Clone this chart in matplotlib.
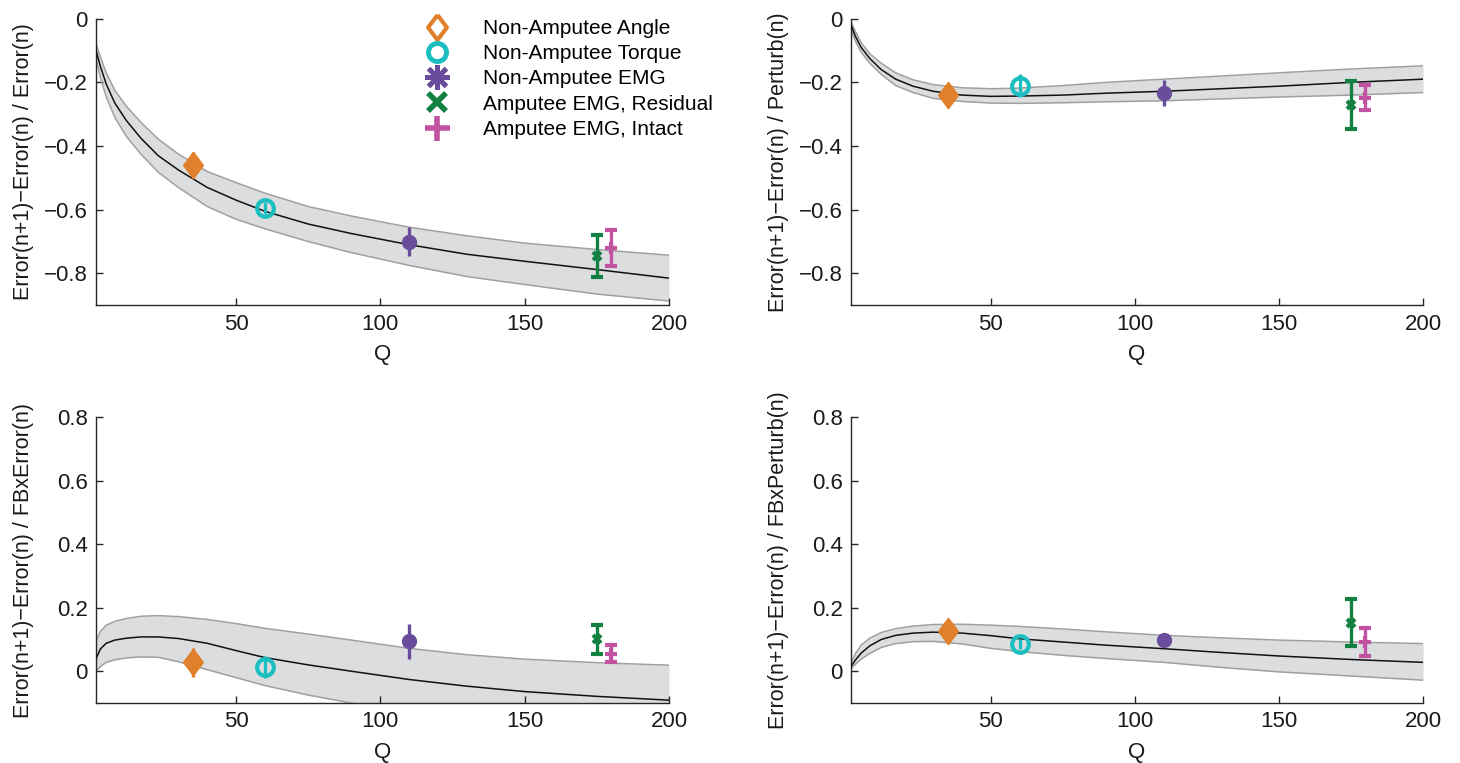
import matplotlib
matplotlib.use('Agg')
import matplotlib.pyplot as plt
from matplotlib.lines import Line2D

plt.rcParams['font.family'] = ['Liberation Sans', 'DejaVu Sans']
plt.rcParams['font.size'] = 16

# group names and Q positions of the five data points
groups = ['Non-Amputee Angle', 'Non-Amputee Torque', 'Non-Amputee EMG',
          'Amputee EMG, Residual', 'Amputee EMG, Intact']
q_pts = [35, 60, 110, 175, 180]

# model curves
q_curve = [1.5, 3, 5, 8, 12, 17, 23, 30, 40, 50, 60, 75, 90, 110, 130, 150, 175, 200]

a_mean = [-0.10, -0.15, -0.205, -0.265, -0.32, -0.375, -0.43, -0.475, -0.53, -0.57, -0.605,
          -0.645, -0.675, -0.71, -0.74, -0.762, -0.788, -0.815]
a_up = [-0.078, -0.12, -0.17, -0.225, -0.275, -0.325, -0.378, -0.425, -0.48, -0.515, -0.548,
        -0.59, -0.62, -0.655, -0.682, -0.705, -0.725, -0.743]
a_lo = [-0.125, -0.185, -0.245, -0.31, -0.37, -0.425, -0.482, -0.53, -0.59, -0.63, -0.66,
        -0.70, -0.735, -0.775, -0.81, -0.835, -0.865, -0.887]
a_y = [-0.46, -0.595, -0.70, -0.745, -0.72]
a_err = [0.04, 0.02, 0.045, 0.065, 0.056]

b_mean = [-0.02, -0.055, -0.09, -0.125, -0.16, -0.19, -0.212, -0.228, -0.24, -0.244, -0.243,
          -0.24, -0.234, -0.228, -0.22, -0.212, -0.20, -0.19]
b_up = [-0.01, -0.04, -0.075, -0.11, -0.14, -0.17, -0.192, -0.207, -0.217, -0.22, -0.218,
        -0.21, -0.20, -0.19, -0.18, -0.17, -0.158, -0.148]
b_lo = [-0.035, -0.07, -0.105, -0.14, -0.175, -0.21, -0.232, -0.25, -0.26, -0.265, -0.266,
        -0.264, -0.261, -0.258, -0.252, -0.246, -0.24, -0.232]
b_y = [-0.24, -0.21, -0.233, -0.272, -0.248]
b_err = [0.015, 0.035, 0.04, 0.075, 0.04]

c_mean = [0.04, 0.07, 0.088, 0.098, 0.104, 0.108, 0.108, 0.103, 0.088, 0.065, 0.043,
          0.02, 0.0, -0.026, -0.047, -0.064, -0.079, -0.091]
c_up = [0.095, 0.125, 0.145, 0.157, 0.166, 0.173, 0.175, 0.172, 0.163, 0.15, 0.135,
        0.117, 0.098, 0.072, 0.052, 0.038, 0.027, 0.019]
c_lo = [0.0, 0.015, 0.028, 0.036, 0.042, 0.045, 0.044, 0.03, 0.005, -0.02, -0.045,
        -0.075, -0.10, -0.128, -0.15, -0.168, -0.185, -0.20]
c_y = [0.028, 0.013, 0.095, 0.10, 0.055]
c_err = [0.045, 0.035, 0.055, 0.047, 0.027]

d_mean = [0.015, 0.035, 0.057, 0.08, 0.10, 0.113, 0.12, 0.123, 0.12, 0.112, 0.102,
          0.092, 0.082, 0.071, 0.059, 0.048, 0.037, 0.028]
d_up = [0.025, 0.055, 0.082, 0.104, 0.122, 0.134, 0.142, 0.147, 0.148, 0.145, 0.141,
        0.133, 0.124, 0.113, 0.105, 0.098, 0.092, 0.087]
d_lo = [0.008, 0.022, 0.038, 0.056, 0.075, 0.087, 0.093, 0.094, 0.086, 0.072, 0.062,
        0.05, 0.04, 0.028, 0.012, -0.002, -0.015, -0.028]
d_y = [0.127, 0.085, 0.098, 0.153, 0.092]
d_err = [0.02, 0.015, 0.01, 0.073, 0.043]

colors = ['#E0802A', '#1BBFC1', '#6A4C9C', '#118041', '#C153A2']
diamond = [(0, 1), (0.75, 0), (0, -1), (-0.75, 0), (0, 1)]
# in-plot marker styles
pt_style = [dict(marker=diamond, ms=19, mfc=colors[0], mec=colors[0], mew=1),
            dict(marker='o', ms=12, mfc='none', mec=colors[1], mew=3),
            dict(marker='o', ms=10, mfc=colors[2], mec=colors[2], mew=1),
            dict(marker='x', ms=6, mfc=colors[3], mec=colors[3], mew=3),
            dict(marker='+', ms=9, mfc=colors[4], mec=colors[4], mew=3)]
caps = [0, 0, 0, 4, 4]

axc = '#262626'
fig = plt.figure(figsize=(14.6, 7.63), dpi=100)
boxes = [[0.0658, 0.600, 0.3924, 0.3755], [0.5829, 0.600, 0.3918, 0.3755],
         [0.0658, 0.0786, 0.3924, 0.3749], [0.5829, 0.0786, 0.3918, 0.3749]]
ylabels = ['Error(n+1)\u2212Error(n) / Error(n)', 'Error(n+1)\u2212Error(n) / Perturb(n)',
           'Error(n+1)\u2212Error(n) / FBxError(n)', 'Error(n+1)\u2212Error(n) / FBxPerturb(n)']
panels = [(a_mean, a_up, a_lo, a_y, a_err), (b_mean, b_up, b_lo, b_y, b_err),
          (c_mean, c_up, c_lo, c_y, c_err), (d_mean, d_up, d_lo, d_y, d_err)]

for i, (mean, up, lo, ys, errs) in enumerate(panels):
  ax = fig.add_axes(boxes[i])
  ax.fill_between(q_curve, lo, up, color='#DCDDDF', lw=0, zorder=1)
  ax.plot(q_curve, up, color='#A0A0A0', lw=1.1, zorder=2)
  ax.plot(q_curve, lo, color='#A0A0A0', lw=1.1, zorder=2)
  ax.plot(q_curve, mean, color='#111111', lw=1.1, zorder=3)
  for j in range(5):
    ax.errorbar(q_pts[j], ys[j], yerr=errs[j], color=colors[j], elinewidth=2.4,
                capsize=caps[j], capthick=2.4, ls='none', zorder=4, **pt_style[j])
  ax.set_xlim(1.5, 200)
  ax.set_xticks([50, 100, 150, 200])
  if i < 2:
    ax.set_ylim(-0.9, 0)
    yt = [-0.8, -0.6, -0.4, -0.2, 0]
  else:
    ax.set_ylim(-0.1, 0.8)
    yt = [0, 0.2, 0.4, 0.6, 0.8]
  ax.set_yticks(yt)
  ax.set_yticklabels(['0' if v == 0 else ('%.1f' % v).replace('-', '\u2212') for v in yt])
  for s in ['top', 'right']:
    ax.spines[s].set_visible(False)
  for s in ['left', 'bottom']:
    ax.spines[s].set_color(axc)
    ax.spines[s].set_linewidth(1.0)
  ax.tick_params(direction='in', length=5, width=1, colors=axc, labelsize=16,
                 labelcolor='#1a1a1a', pad=6)
  ax.set_xlabel('Q', fontsize=16, color='#1a1a1a', labelpad=7)
  ax.set_ylabel(ylabels[i], fontsize=15.5, color='#1a1a1a')
  ax.yaxis.set_label_coords(-0.108, 0.5)
  if i == 0:
    handles = [Line2D([], [], ls='none', marker=diamond, ms=18, mfc='none', mec=colors[0], mew=3),
               Line2D([], [], ls='none', marker='o', ms=13, mfc='none', mec=colors[1], mew=3.5),
               Line2D([], [], ls='none', marker=(8, 2, 0), ms=18, mec=colors[2], mew=3.5),
               Line2D([], [], ls='none', marker='x', ms=13, mec=colors[3], mew=4),
               Line2D([], [], ls='none', marker='+', ms=18, mec=colors[4], mew=4)]
    ax.legend(handles, groups, loc='upper left', bbox_to_anchor=(416 / 1460, 1 - 19 / 763),
              bbox_transform=fig.transFigure, frameon=False, fontsize=15,
              handlelength=2.0, handletextpad=1.2, labelspacing=0.3, borderpad=0,
              borderaxespad=0)

plt.savefig('out.png', dpi=100)
